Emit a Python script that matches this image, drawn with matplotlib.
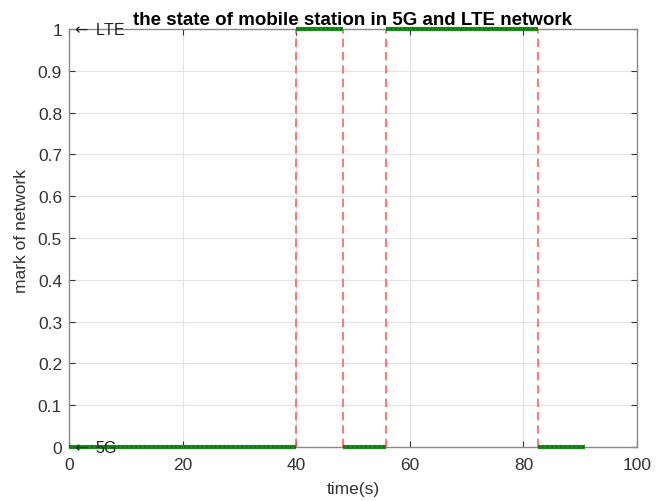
import matplotlib
matplotlib.use("Agg")
import matplotlib.pyplot as plt

# ----- data -----
switch_times = [0, 40, 48.3, 55.8, 82.5, 90.8]
states = [0, 1, 0, 1, 0]
x_ticks = [0, 20, 40, 60, 80, 100]
y_ticks = [0, 0.1, 0.2, 0.3, 0.4, 0.5, 0.6, 0.7, 0.8, 0.9, 1]
y_tick_labels = ["0", "0.1", "0.2", "0.3", "0.4", "0.5", "0.6", "0.7", "0.8", "0.9", "1"]

plt.rcParams['font.family'] = ['Liberation Sans', 'DejaVu Sans']

fig = plt.figure(figsize=(6.67, 5.02), dpi=100)
ax = fig.add_axes([0.1034, 0.1076, 0.8516, 0.8324])

# green state segments
for i in range(len(states)):
    ax.hlines(states[i], switch_times[i], switch_times[i + 1], color='#1b8a1b',
              linewidth=3, clip_on=False, zorder=3)
    ax.plot([switch_times[i], switch_times[i + 1]], [states[i], states[i]],
            color='#0f6a0f', linestyle=':', linewidth=1.2, clip_on=False, zorder=4)

# red dashed switching lines
for t in switch_times[1:-1]:
    ax.vlines(t, 0, 1, color='#ff6060', linestyle=(0, (5, 3)), linewidth=1.2, zorder=2)

ax.text(0.3, 1, r'$\leftarrow$ LTE', fontsize=11.5, va='center', ha='left', color='#222222')
ax.text(0.3, 0, r'$\leftarrow$ 5G', fontsize=11.5, va='center', ha='left', color='#222222')

ax.set_xlim(0, 100)
ax.set_ylim(0, 1)
ax.set_xticks(x_ticks)
ax.set_yticks(y_ticks)
ax.set_yticklabels(y_tick_labels)
ax.grid(True, color='#e3e3e3', linewidth=0.8)
ax.set_axisbelow(True)
ax.tick_params(direction='in', top=True, right=True, labelsize=12.5, colors='#333333',
               length=4, width=0.8)
ax.tick_params(axis='x', pad=7)
ax.tick_params(axis='y', pad=5)
for s in ax.spines.values():
    s.set_color('#8a8a8a')
    s.set_linewidth(1.0)

ax.set_title('the state of mobile station in 5G and LTE network', fontsize=13.5,
             fontweight='bold', pad=4)
ax.set_xlabel('time(s)', fontsize=12.5, color='#333333', labelpad=7)
ax.set_ylabel('mark of network', fontsize=12.5, color='#333333')
ax.yaxis.set_label_coords(-0.07, 0.52)

fig.savefig('out.png', dpi=100)
